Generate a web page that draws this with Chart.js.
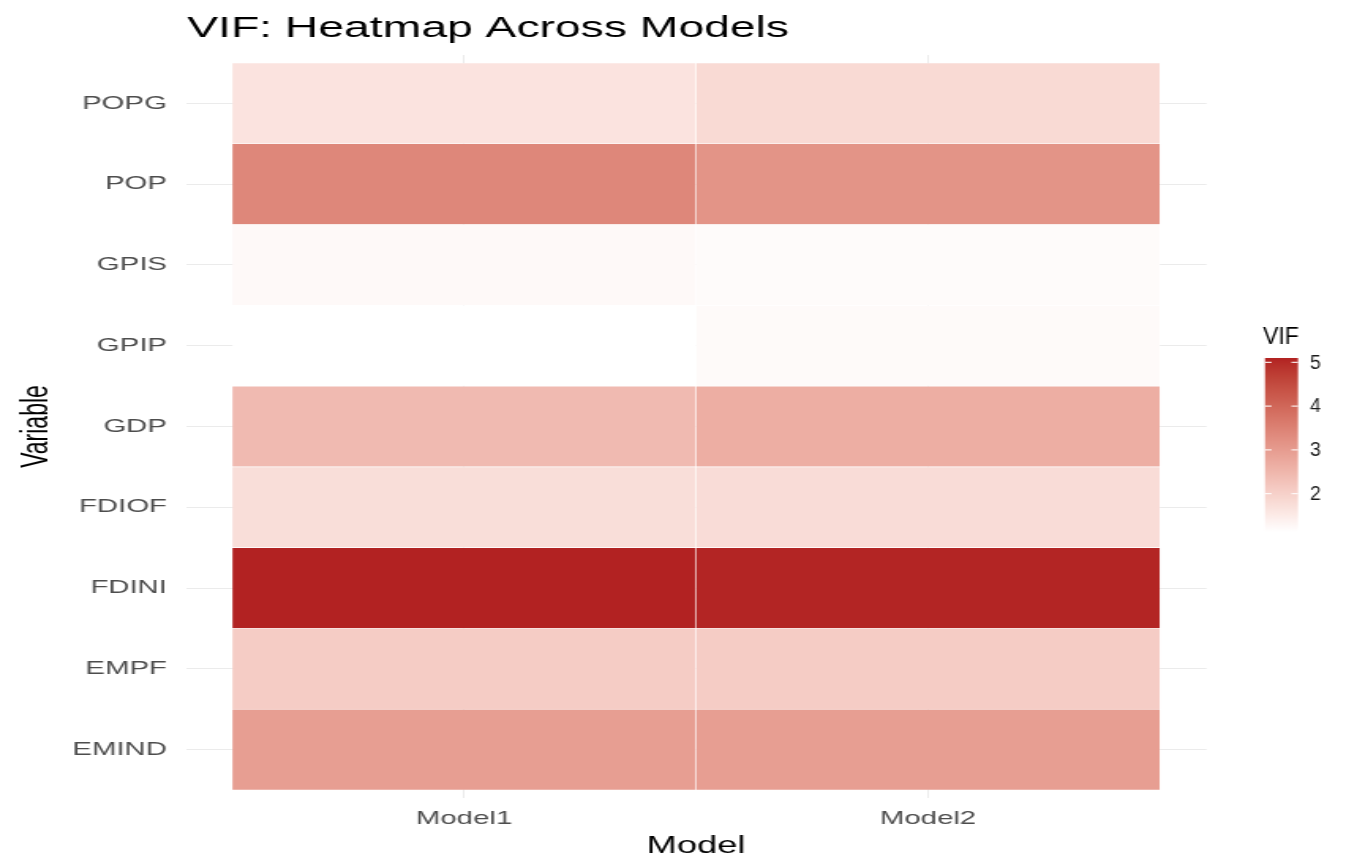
<!DOCTYPE html>
<html>
<head>
<meta charset="utf-8">
<title>VIF: Heatmap Across Models</title>
<script src="https://cdn.jsdelivr.net/npm/chart.js@4.4.1/dist/chart.umd.min.js"></script>
<style>
  html, body { margin: 0; padding: 0; background: #ffffff; }
  #heat { display: block; width: 1357px; height: 854px; }
</style>
</head>
<body>
<canvas id="heat" width="859" height="854" style="width:1357px;height:854px;"></canvas>
<script>
// ---- data -------------------------------------------------------------
const models = ['Model1', 'Model2'];
const variables = ['POPG', 'POP', 'GPIS', 'GPIP', 'GDP', 'FDIOF', 'FDINI', 'EMPF', 'EMIND'];
const vifModel1 = [1.64, 3.39, 1.24, 1.12, 2.42, 1.74, 5.10, 2.08, 2.95];
const vifModel2 = [1.82, 3.15, 1.20, 1.22, 2.65, 1.78, 5.06, 2.08, 2.95];
const legendTicks = [2, 3, 4, 5];

const vifByModel = [vifModel1, vifModel2];
const allVif = vifModel1.concat(vifModel2);
const vifMin = Math.min(...allVif);
const vifMax = Math.max(...allVif);

// the canvas is drawn at 859 px and widened to 1357 px by CSS
const STRETCH = 1357 / 859;

// ---- white -> firebrick gradient, interpolated in CIE Lab ----------------
const WHITE = [255, 255, 255];
const FIREBRICK = [178, 34, 34];
const XN = 0.95047, YN = 1.0, ZN = 1.08883;

function toLinear(c) { c /= 255; return c <= 0.04045 ? c / 12.92 : Math.pow((c + 0.055) / 1.055, 2.4); }
function fromLinear(c) {
  c = c <= 0.0031308 ? 12.92 * c : 1.055 * Math.pow(c, 1 / 2.4) - 0.055;
  return Math.round(Math.min(1, Math.max(0, c)) * 255);
}
function rgbToLab(rgb) {
  const [r, g, b] = rgb.map(toLinear);
  const x = (0.4124 * r + 0.3576 * g + 0.1805 * b) / XN;
  const y = (0.2126 * r + 0.7152 * g + 0.0722 * b) / YN;
  const z = (0.0193 * r + 0.1192 * g + 0.9505 * b) / ZN;
  const f = t => t > 0.008856 ? Math.cbrt(t) : 7.787 * t + 16 / 116;
  const fx = f(x), fy = f(y), fz = f(z);
  return [116 * fy - 16, 500 * (fx - fy), 200 * (fy - fz)];
}
function labToRgb(lab) {
  const [L, a, b] = lab;
  const fy = (L + 16) / 116, fx = fy + a / 500, fz = fy - b / 200;
  const inv = f => { const f3 = f * f * f; return f3 > 0.008856 ? f3 : (f - 16 / 116) / 7.787; };
  const x = inv(fx) * XN, y = inv(fy) * YN, z = inv(fz) * ZN;
  const r = 3.2406 * x - 1.5372 * y - 0.4986 * z;
  const g = -0.9689 * x + 1.8758 * y + 0.0415 * z;
  const bl = 0.0557 * x - 0.2040 * y + 1.0570 * z;
  return [fromLinear(r), fromLinear(g), fromLinear(bl)];
}
const LAB_LOW = rgbToLab(WHITE);
const LAB_HIGH = rgbToLab(FIREBRICK);

function colorAt(t) {
  t = Math.min(1, Math.max(0, t));
  const lab = LAB_LOW.map((v, i) => v + (LAB_HIGH[i] - v) * t);
  const [r, g, b] = labToRgb(lab);
  return `rgb(${r},${g},${b})`;
}
function vifColor(v) { return colorAt((v - vifMin) / (vifMax - vifMin)); }

// ---- fonts / styles ----------------------------------------------------
const FAMILY = '"Liberation Sans", Arial, Helvetica, sans-serif';
const GRID = '#EBEBEB';
const AXIS_TEXT = '#4D4D4D';

// ---- title and colour-bar legend ------------------------------------------
const decorations = {
  id: 'decorations',
  afterDraw(chart) {
    const ctx = chart.ctx;
    const area = chart.chartArea;
    ctx.save();

    // plot title
    ctx.fillStyle = '#000000';
    ctx.font = `29.3px ${FAMILY}`;
    ctx.textAlign = 'left';
    ctx.textBaseline = 'alphabetic';
    ctx.fillText('VIF: Heatmap Across Models', area.left + 1, 37);

    // legend: laid out in screen pixels, so undo the horizontal widening
    ctx.translate(1263 / STRETCH, 0);
    ctx.scale(1 / STRETCH, 1);

    const barLeft = 2, barWidth = 33;
    const barTop = 358, barBottom = 532;

    ctx.font = `23px ${FAMILY}`;
    ctx.fillText('VIF', 0, 344);

    const grad = ctx.createLinearGradient(0, barBottom, 0, barTop);
    const steps = 30;
    for (let i = 0; i <= steps; i++) grad.addColorStop(i / steps, colorAt(i / steps));
    ctx.fillStyle = grad;
    ctx.fillRect(barLeft, barTop, barWidth, barBottom - barTop);

    const yOf = v => barBottom - (v - vifMin) / (vifMax - vifMin) * (barBottom - barTop);
    const tickLen = barWidth / 5;
    ctx.strokeStyle = 'rgba(255,255,255,0.85)';
    ctx.lineWidth = 1.2;
    ctx.font = `19.5px ${FAMILY}`;
    ctx.fillStyle = '#1a1a1a';
    ctx.textBaseline = 'middle';
    legendTicks.forEach(v => {
      const y = yOf(v);
      ctx.beginPath();
      ctx.moveTo(barLeft, y); ctx.lineTo(barLeft + tickLen, y);
      ctx.moveTo(barLeft + barWidth - tickLen, y); ctx.lineTo(barLeft + barWidth, y);
      ctx.stroke();
      ctx.fillText(String(v), barLeft + barWidth + 12, y + 1);
    });
    ctx.restore();
  }
};

// ---- tiles: one stacked horizontal bar segment per model ------------------
const datasets = models.map((m, mi) => ({
  label: m,
  data: variables.map((name, i) => ({ x: 1, y: i })),
  backgroundColor: vifByModel[mi].map(vifColor),
  borderColor: 'rgba(255,255,255,0.45)',
  borderWidth: 0.6,
  borderSkipped: false,
  barPercentage: 1.0,
  categoryPercentage: 1.0
}));

new Chart(document.getElementById('heat'), {
  type: 'bar',
  data: { datasets },
  options: {
    indexAxis: 'y',
    responsive: false,
    animation: false,
    devicePixelRatio: 1,
    layout: { padding: { left: 0, top: 55, right: 95.3, bottom: 0 } },
    plugins: {
      legend: { display: false },
      title: { display: false },
      tooltip: { enabled: false }
    },
    scales: {
      x: {
        type: 'linear',
        stacked: true,
        min: -0.1,
        max: 2.1,
        offset: false,
        afterBuildTicks: s => { s.ticks = models.map((_, i) => ({ value: i + 0.5 })); },
        afterFit: s => { s.height = 56; },
        ticks: {
          callback: v => models[Math.round(v - 0.5)],
          color: AXIS_TEXT,
          font: { family: FAMILY, size: 18.6 },
          padding: 10,
          maxRotation: 0,
          autoSkip: false
        },
        grid: { color: GRID, lineWidth: 1, drawTicks: false, offset: false },
        border: { display: false },
        title: {
          display: true,
          text: 'Model',
          color: '#000000',
          font: { family: FAMILY, size: 23, lineHeight: 0.65 },
          padding: { top: 0, bottom: 0 }
        }
      },
      y: {
        type: 'linear',
        stacked: true,
        reverse: true,
        offset: false,
        min: -0.6,
        max: variables.length - 0.4,
        afterBuildTicks: s => { s.ticks = variables.map((_, i) => ({ value: i })); },
        afterFit: s => { s.width = 117.5; },
        ticks: {
          callback: v => variables[Math.round(v)],
          color: AXIS_TEXT,
          font: { family: FAMILY, size: 18.6 },
          padding: 11.8,
          autoSkip: false
        },
        grid: { color: GRID, lineWidth: 1, drawTicks: false, offset: false },
        border: { display: false },
        title: {
          display: true,
          text: 'Variable',
          color: '#000000',
          font: { family: FAMILY, size: 23, lineHeight: 1 },
          padding: { top: 12.5, bottom: 0 }
        }
      }
    }
  },
  plugins: [decorations]
});
</script>
</body>
</html>
